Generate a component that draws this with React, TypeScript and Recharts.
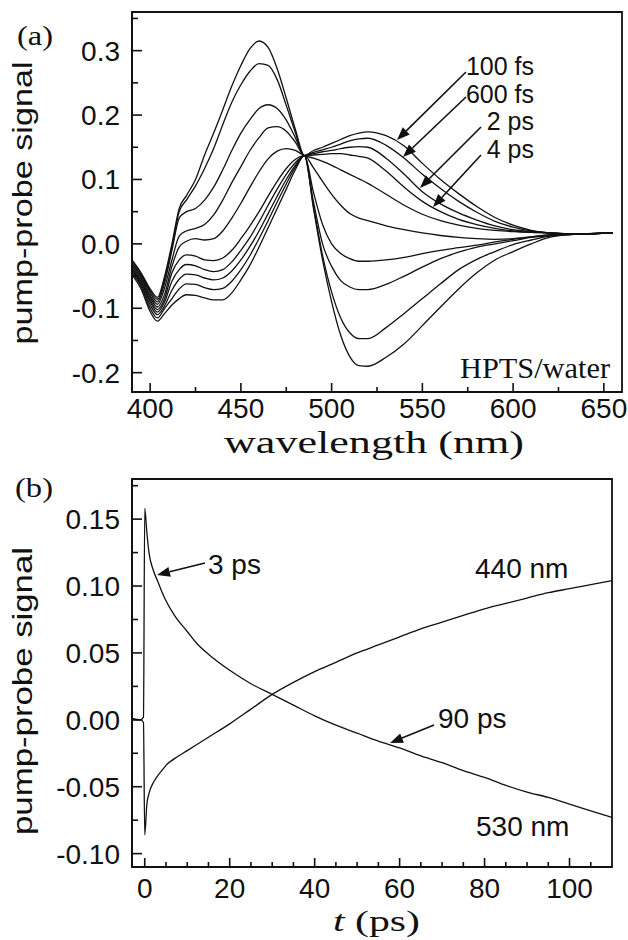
import { LineChart, Line, XAxis, YAxis, ReferenceArea } from "recharts";

// panel (a): transient spectra, wavelength in nm
const wavelengths = [390, 395, 400, 404, 408, 412, 416, 420, 425, 430, 435, 440, 445, 450, 455, 460, 465, 470, 475, 480, 485, 490, 495, 500, 505, 510, 515, 520, 530, 540, 550, 560, 570, 580, 590, 600, 610, 620, 635, 655];

const spec100fs = [-0.025, -0.045, -0.07, -0.083, -0.05, 0.0, 0.055, 0.075, 0.1, 0.138, 0.172, 0.208, 0.245, 0.277, 0.303, 0.315, 0.305, 0.272, 0.226, 0.178, 0.137, 0.145, 0.15, 0.156, 0.162, 0.168, 0.172, 0.174, 0.168, 0.152, 0.125, 0.1, 0.078, 0.058, 0.041, 0.029, 0.021, 0.017, 0.015, 0.017];
const spec600fs = [-0.027, -0.047, -0.073, -0.086, -0.055, -0.005, 0.05, 0.068, 0.09, 0.117, 0.148, 0.185, 0.22, 0.247, 0.268, 0.28, 0.277, 0.255, 0.215, 0.173, 0.137, 0.142, 0.146, 0.15, 0.155, 0.16, 0.163, 0.164, 0.153, 0.133, 0.108, 0.086, 0.066, 0.049, 0.035, 0.026, 0.02, 0.017, 0.015, 0.017];
const spec2ps = [-0.03, -0.05, -0.076, -0.09, -0.06, -0.01, 0.04, 0.05, 0.055, 0.068, 0.088, 0.115, 0.145, 0.172, 0.193, 0.21, 0.216, 0.21, 0.192, 0.165, 0.137, 0.14, 0.143, 0.145, 0.148, 0.15, 0.151, 0.15, 0.133, 0.108, 0.081, 0.062, 0.048, 0.037, 0.028, 0.022, 0.019, 0.017, 0.015, 0.017];
const spec4ps = [-0.032, -0.052, -0.08, -0.094, -0.068, -0.025, 0.012, 0.02, 0.024, 0.03, 0.045, 0.068, 0.095, 0.12, 0.145, 0.165, 0.18, 0.182, 0.175, 0.158, 0.137, 0.138, 0.139, 0.14, 0.14, 0.138, 0.136, 0.133, 0.113, 0.088, 0.066, 0.05, 0.038, 0.03, 0.024, 0.02, 0.018, 0.017, 0.015, 0.017];
const specLate1 = [-0.035, -0.055, -0.083, -0.098, -0.078, -0.035, -0.005, 0.004, 0.008, 0.006, 0.008, 0.02, 0.04, 0.063, 0.088, 0.112, 0.132, 0.144, 0.148, 0.145, 0.137, 0.133, 0.128, 0.122, 0.115, 0.108, 0.101, 0.094, 0.077, 0.06, 0.046, 0.036, 0.029, 0.024, 0.021, 0.019, 0.018, 0.017, 0.015, 0.017];
const specLate2 = [-0.038, -0.058, -0.087, -0.102, -0.085, -0.045, -0.025, -0.017, -0.019, -0.025, -0.026, -0.022, -0.01, 0.008, 0.028, 0.05, 0.074, 0.097, 0.117, 0.131, 0.137, 0.118, 0.097, 0.077, 0.06, 0.047, 0.04, 0.036, 0.028, 0.022, 0.017, 0.013, 0.01, 0.008, 0.007, 0.008, 0.011, 0.014, 0.015, 0.017];
const specLate3 = [-0.04, -0.06, -0.09, -0.106, -0.09, -0.058, -0.04, -0.032, -0.034, -0.04, -0.043, -0.04, -0.028, -0.01, 0.01, 0.034, 0.06, 0.085, 0.108, 0.126, 0.137, 0.08, 0.03, 0.0, -0.015, -0.023, -0.027, -0.027, -0.025, -0.021, -0.015, -0.01, -0.006, -0.002, 0.003, 0.007, 0.011, 0.014, 0.015, 0.017];
const specLate4 = [-0.042, -0.063, -0.095, -0.11, -0.096, -0.072, -0.055, -0.047, -0.048, -0.053, -0.056, -0.053, -0.042, -0.025, -0.004, 0.02, 0.047, 0.074, 0.1, 0.122, 0.137, 0.065, 0.0, -0.035, -0.057, -0.067, -0.071, -0.071, -0.063, -0.05, -0.036, -0.023, -0.013, -0.005, 0.0, 0.005, 0.01, 0.013, 0.015, 0.017];
const specLate5 = [-0.045, -0.066, -0.1, -0.115, -0.1, -0.085, -0.07, -0.062, -0.063, -0.068, -0.071, -0.069, -0.058, -0.04, -0.018, 0.008, 0.036, 0.065, 0.093, 0.119, 0.137, 0.058, -0.018, -0.075, -0.115, -0.138, -0.147, -0.147, -0.13, -0.108, -0.085, -0.062, -0.04, -0.024, -0.012, -0.001, 0.006, 0.012, 0.015, 0.017];
const specLate6 = [-0.048, -0.07, -0.105, -0.12, -0.108, -0.095, -0.085, -0.079, -0.08, -0.084, -0.087, -0.087, -0.076, -0.056, -0.033, -0.005, 0.025, 0.055, 0.085, 0.115, 0.137, 0.055, -0.025, -0.09, -0.142, -0.175, -0.189, -0.19, -0.176, -0.155, -0.127, -0.098, -0.07, -0.045, -0.025, -0.012, 0.0, 0.01, 0.015, 0.017];

const spectra = [spec100fs, spec600fs, spec2ps, spec4ps, specLate1, specLate2, specLate3, specLate4, specLate5, specLate6];

const aXTicks = [400, 425, 450, 475, 500, 525, 550, 575, 600, 625, 650];
const aXLabels = [400, 450, 500, 550, 600, 650];
const aYTicks = [-0.2, -0.15, -0.1, -0.05, 0, 0.05, 0.1, 0.15, 0.2, 0.25, 0.3, 0.35];
const aYLabels = [-0.2, -0.1, 0, 0.1, 0.2, 0.3];

// panel (b): kinetics, t in ps
const times = [-3, -1, -0.3, 0, 0.5, 1, 2, 3, 4, 5, 7, 10, 12, 15, 20, 25, 30, 35, 40, 45, 50, 55, 60, 65, 70, 75, 80, 85, 90, 95, 100, 105, 110];
const sig440 = [0.0, 0.0, -0.002, -0.086, -0.063, -0.055, -0.047, -0.042, -0.038, -0.034, -0.029, -0.023, -0.019, -0.013, -0.003, 0.008, 0.019, 0.028, 0.036, 0.043, 0.05, 0.056, 0.062, 0.068, 0.073, 0.078, 0.083, 0.087, 0.091, 0.095, 0.098, 0.101, 0.104];
const sig530 = [0.001, 0.0, 0.002, 0.158, 0.14, 0.125, 0.112, 0.104, 0.096, 0.089, 0.078, 0.066, 0.058, 0.049, 0.037, 0.027, 0.019, 0.011, 0.003, -0.004, -0.01, -0.016, -0.021, -0.027, -0.032, -0.038, -0.043, -0.049, -0.054, -0.058, -0.063, -0.068, -0.073];

const bXTicks = [0, 5, 10, 15, 20, 25, 30, 35, 40, 45, 50, 55, 60, 65, 70, 75, 80, 85, 90, 95, 100, 105];
const bXLabels = [0, 20, 40, 60, 80, 100];
const bYTicks = [-0.1, -0.075, -0.05, -0.025, 0, 0.025, 0.05, 0.075, 0.1, 0.125, 0.15, 0.175];
const bYLabels = [-0.1, -0.05, 0, 0.05, 0.1, 0.15];

const dataA = wavelengths.map((w, i) => {
  const row: Record<string, number> = { w };
  spectra.forEach((s, k) => (row["c" + k] = s[i]));
  return row;
});
const dataB = times.map((t, i) => ({ t, a440: sig440[i], a530: sig530[i] }));

const SANS = "'Liberation Sans', Arial, sans-serif";
const SERIF = "'Liberation Serif', 'Times New Roman', serif";
const INK = "#111";

const isMajor = (v: number, majors: number[]) => majors.some((m) => Math.abs(m - v) < 1e-9);

function xTick(majors: number[], labelDy: number, fmt: (v: number) => string) {
  return (p: any) => {
    const major = isMajor(p.payload.value, majors);
    return (
      <g>
        <line x1={p.x} x2={p.x} y1={p.y} y2={p.y - (major ? 9 : 5)} stroke={INK} strokeWidth={1.6} />
        {major && (
          <text x={p.x} y={p.y + labelDy} textAnchor="middle" fontFamily={SANS} fontSize={28} fill={INK}>
            {fmt(p.payload.value)}
          </text>
        )}
      </g>
    );
  };
}

function yTick(majors: number[], fmt: (v: number) => string) {
  return (p: any) => {
    const major = isMajor(p.payload.value, majors);
    return (
      <g>
        <line x1={p.x} x2={p.x + (major ? 10 : 6)} y1={p.y} y2={p.y} stroke={INK} strokeWidth={1.6} />
        {major && (
          <text x={p.x - 12} y={p.y + 10} textAnchor="end" fontFamily={SANS} fontSize={28} fill={INK}>
            {fmt(p.payload.value)}
          </text>
        )}
      </g>
    );
  };
}

function Arrow({ x1, y1, x2, y2 }: { x1: number; y1: number; x2: number; y2: number }) {
  const len = Math.hypot(x2 - x1, y2 - y1);
  const ux = (x2 - x1) / len;
  const uy = (y2 - y1) / len;
  const bx = x2 - ux * 13;
  const by = y2 - uy * 13;
  const pts = `${x2},${y2} ${bx - uy * 5},${by + ux * 5} ${bx + uy * 5},${by - ux * 5}`;
  return (
    <g>
      <line x1={x1} y1={y1} x2={bx} y2={by} stroke={INK} strokeWidth={1.6} />
      <polygon points={pts} fill={INK} />
    </g>
  );
}

function YTitle({ cy, length }: { cy: number; length: number }) {
  return (
    <text
      x={32}
      y={cy}
      transform={`rotate(-90, 32, ${cy})`}
      textAnchor="middle"
      fontFamily={SANS}
      fontSize={28}
      fill={INK}
      textLength={length}
      lengthAdjust="spacingAndGlyphs"
    >
      pump-probe signal
    </text>
  );
}

const fmt1 = (v: number) => (Math.abs(v) < 1e-9 ? "0.0" : v.toFixed(1));
const fmt2 = (v: number) => (Math.abs(v) < 1e-9 ? "0.00" : v.toFixed(2));

function PanelA() {
  return (
    <LineChart width={628} height={470} data={dataA} margin={{ top: 12, right: 6, left: 0, bottom: 0 }}>
      <XAxis
        dataKey="w"
        type="number"
        domain={[390, 660]}
        ticks={aXTicks}
        interval={0}
        allowDataOverflow
        height={78}
        tickSize={0}
        tickMargin={0}
        tickLine={false}
        axisLine={{ stroke: INK, strokeWidth: 1.8 }}
        tick={xTick(aXLabels, 26, (v) => String(v))}
      />
      <YAxis
        type="number"
        domain={[-0.23, 0.36]}
        ticks={aYTicks}
        interval={0}
        allowDataOverflow
        width={132}
        tickSize={0}
        tickMargin={0}
        tickLine={false}
        axisLine={{ stroke: INK, strokeWidth: 1.8 }}
        tick={yTick(aYLabels, fmt1)}
      />
      <ReferenceArea x1={390} x2={660} y1={-0.23} y2={0.36} fill="none" stroke={INK} strokeWidth={1.8} />
      {spectra.map((_, k) => (
        <Line
          key={k}
          dataKey={"c" + k}
          type="monotone"
          stroke={INK}
          strokeWidth={1.3}
          dot={false}
          isAnimationActive={false}
        />
      ))}
      <text x={17} y={45} fontFamily={SERIF} fontSize={27} fill={INK} textLength={36} lengthAdjust="spacingAndGlyphs">
        (a)
      </text>
      <YTitle cy={203} length={283} />
      <text x={224} y={453} fontFamily={SERIF} fontSize={32} fill={INK} textLength={300} lengthAdjust="spacingAndGlyphs">
        wavelength (nm)
      </text>
      <text x={460} y={378} fontFamily={SERIF} fontSize={30} fill={INK} textLength={150} lengthAdjust="spacingAndGlyphs">
        HPTS/water
      </text>
      <g fontFamily={SANS} fontSize={25} fill={INK} textAnchor="end">
        <text x={534} y={75}>100 fs</text>
        <text x={534} y={103}>600 fs</text>
        <text x={534} y={130}>2 ps</text>
        <text x={534} y={158}>4 ps</text>
      </g>
      <Arrow x1={466} y1={72} x2={397} y2={140} />
      <Arrow x1={466} y1={97} x2={403} y2={157} />
      <Arrow x1={481} y1={127} x2={420} y2={188} />
      <Arrow x1={481} y1={155} x2={433} y2={207} />
    </LineChart>
  );
}

function PanelB() {
  return (
    <LineChart width={628} height={470} data={dataB} margin={{ top: 9, right: 16, left: 0, bottom: 0 }}>
      <XAxis
        dataKey="t"
        type="number"
        domain={[-3, 110]}
        ticks={bXTicks}
        interval={0}
        allowDataOverflow
        height={73}
        tickSize={0}
        tickMargin={0}
        tickLine={false}
        axisLine={{ stroke: INK, strokeWidth: 1.8 }}
        tick={xTick(bXLabels, 31, (v) => String(v))}
      />
      <YAxis
        type="number"
        domain={[-0.11, 0.18]}
        ticks={bYTicks}
        interval={0}
        allowDataOverflow
        width={132}
        tickSize={0}
        tickMargin={0}
        tickLine={false}
        axisLine={{ stroke: INK, strokeWidth: 1.8 }}
        tick={yTick(bYLabels, fmt2)}
      />
      <ReferenceArea x1={-3} x2={110} y1={-0.11} y2={0.18} fill="none" stroke={INK} strokeWidth={1.8} />
      <Line dataKey="a440" type="monotone" stroke={INK} strokeWidth={1.3} dot={false} isAnimationActive={false} />
      <Line dataKey="a530" type="monotone" stroke={INK} strokeWidth={1.3} dot={false} isAnimationActive={false} />
      <text x={15} y={27} fontFamily={SERIF} fontSize={27} fill={INK} textLength={38} lengthAdjust="spacingAndGlyphs">
        (b)
      </text>
      <YTitle cy={221} length={288} />
      <text x={333} y={461} fontFamily={SERIF} fontSize={30} fill={INK} textLength={87} lengthAdjust="spacingAndGlyphs">
        <tspan fontStyle="italic">t</tspan> (ps)
      </text>
      <g fontFamily={SANS} fontSize={28} fill={INK}>
        <text x={208} y={104}>3 ps</text>
        <text x={475} y={108}>440 nm</text>
        <text x={438} y={258}>90 ps</text>
        <text x={476} y={366}>530 nm</text>
      </g>
      <Arrow x1={205} y1={93} x2={157} y2={105} />
      <Arrow x1={434} y1={255} x2={390} y2={273} />
    </LineChart>
  );
}

export default function App() {
  return (
    <div style={{ position: "absolute", left: 0, top: 0, width: 628, height: 940, background: "#fff" }}>
      <PanelA />
      <PanelB />
    </div>
  );
}
